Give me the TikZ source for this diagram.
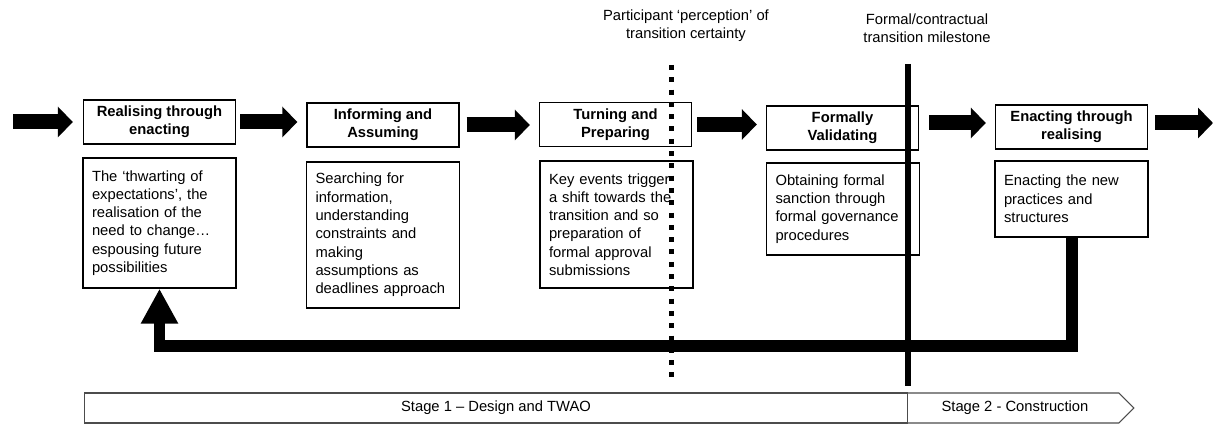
\documentclass[tikz,border=0pt]{standalone}
\usepackage{fontspec}
\setmainfont{Liberation Sans}
\usepackage{tikz}
\usetikzlibrary{arrows.meta, positioning, calc}

\begin{document}
\begin{tikzpicture}[
    x=0.02cm, y=-0.02cm,
    font=\fontsize{8.4}{10.4}\selectfont,
    titlebox/.style={draw, line width=0.8pt, fill=white, minimum width=3.04cm, minimum height=0.88cm, align=center, inner sep=1pt, font=\fontsize{8.4}{10.4}\selectfont\bfseries},
    descbox/.style={draw, line width=0.8pt, fill=white, minimum width=3.06cm, text width=2.7cm, inner xsep=0.18cm, align=left},
    blockarrow/.style={-{Triangle[length=0.3cm, width=0.6cm]}, line width=0.3cm, shorten <=0.14cm, shorten >=0.18cm},
    feedback/.style={-{Triangle[length=0.7cm, width=0.7cm]}, line width=0.24cm, line join=miter},
    stagebox/.style={draw=black!70, line width=0.6pt, minimum height=0.6cm, outer sep=0pt},
    label/.style={align=center}
]
    \useasboundingbox (0,0) rectangle (1215,425);

    % Stage titles
    \node[titlebox] (t1) at (159.5,122) {Realising through\\enacting};
    \node[titlebox] (t2) at (383,125) {Informing and\\Assuming};
    \node[titlebox] (t3) at (615.5,124.5) {Turning and\\Preparing};
    \node[titlebox] (t4) at (842.5,128) {Formally\\Validating};
    \node[titlebox] (t5) at (1071.5,127) {Enacting through\\realising};

    % Descriptions
    \node[descbox, minimum height=2.6cm] (d1) at (159.5,223) {The ‘thwarting of\\expectations’, the\\realisation of the\\need to change…\\espousing future\\possibilities};
    \node[descbox, minimum height=2.92cm] (d2) at (383,235) {Searching for\\information,\\understanding\\constraints and\\making\\assumptions as\\deadlines approach};
    \node[descbox, minimum height=2.54cm] (d3) at (616.5,224.5) {Key events trigger\\a shift towards the\\transition and so\\preparation of\\formal approval\\submissions};
    \node[descbox, minimum height=1.84cm] (d4) at (843,209) {Obtaining formal\\sanction through\\formal governance\\procedures};
    \node[descbox, minimum height=1.52cm] (d5) at (1071.5,199) {Enacting the new\\practices and\\structures};

    % Flow arrows
    \coordinate (start) at (13,122);
    \coordinate (finish) at (1213,123);
    \draw[blockarrow, shorten <=0pt, shorten >=0.2cm] (start) -- (t1.west |- start);
    \draw[blockarrow, shorten <=0.08cm] (t1.east) -- (t1.east -| t2.west);
    \draw[blockarrow] (t2.east) -- (t2.east -| t3.west);
    \draw[blockarrow, shorten <=0.1cm] (t3.east) -- (t3.east -| t4.west);
    \draw[blockarrow, shorten <=0.2cm] (t4.east |- finish) -- (t5.west |- finish);
    \draw[blockarrow, shorten >=0pt] (t5.east |- finish) -- (finish);

    % Loop back
    \coordinate (loop) at (0,346);
    \draw[feedback] (d5.south) -- (d5.south |- loop) -| (d1.south);

    % Transition markers
    \coordinate (perctop) at (671,65);
    \coordinate (percbot) at (671,383);
    \coordinate (mstop) at (908,64);
    \coordinate (msbot) at (908,386);
    \draw[line width=0.1cm, dash pattern=on 0.1cm off 0.146cm] (perctop) -- (percbot);
    \draw[line width=0.11cm] (mstop) -- (msbot);
    \node[label] (perc) at (686,26) {Participant ‘perception’ of\\transition certainty};
    \node[label] (ms) at (927,28) {Formal/contractual\\transition milestone};

    % Stages
    \node[stagebox, minimum width=16.48cm] (stage1) at (496,408) {Stage 1 – Design and TWAO};
    \draw[draw=black!70, line width=0.6pt] (stage1.north east) -- ++(211,0) -- ++(15,15) -- ++(-15,15) -- (stage1.south east);
    \node (stage2) at (1015,408) {Stage 2 - Construction};
\end{tikzpicture}
\end{document}
